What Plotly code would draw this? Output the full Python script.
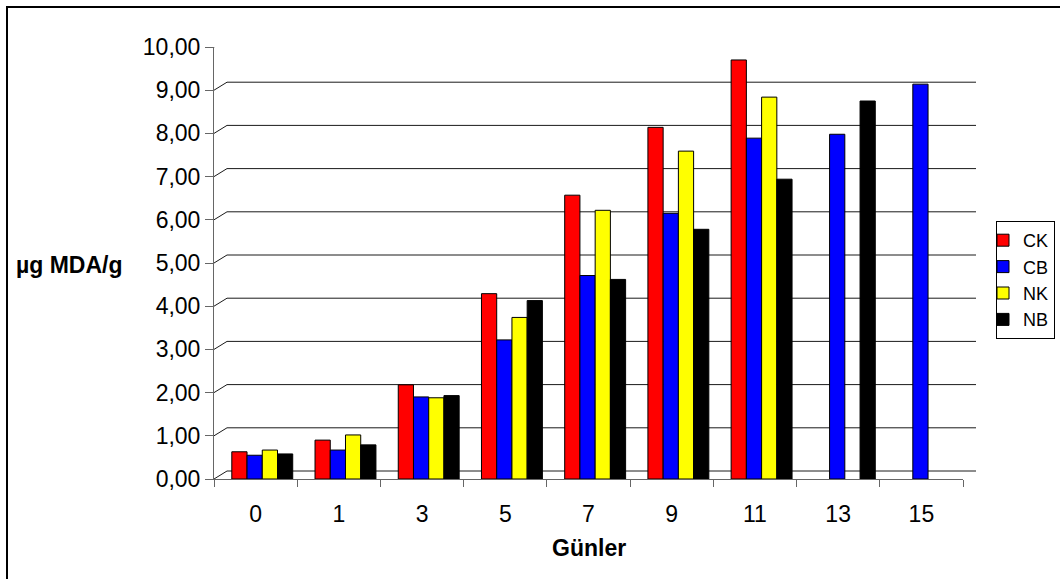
import plotly.graph_objects as go

# Storage days and MDA content (µg MDA/g) per sample group
days = ["0", "1", "3", "5", "7", "9", "11", "13", "15"]
ck = [0.63, 0.90, 2.18, 4.29, 6.57, 8.14, 9.70, None, None]
cb = [0.55, 0.67, 1.90, 3.22, 4.71, 6.15, 7.89, 7.98, 9.14]
nk = [0.67, 1.02, 1.88, 3.74, 6.22, 7.59, 8.84, None, None]
nb = [0.58, 0.79, 1.93, 4.13, 4.62, 5.78, 6.94, 8.75, None]

series = [("CK", ck, "#FF0000"), ("CB", cb, "#0000FF"),
          ("NK", nk, "#FFFF00"), ("NB", nb, "#000000")]
y_ticks = [0, 1, 2, 3, 4, 5, 6, 7, 8, 9, 10]
y_tick_text = [f"{v:.2f}".replace(".", ",") for v in y_ticks]

W, H = 1060, 579
L, R, T, B = 214, 97, 47, 100
PW, PH = W - L - R, H - T - B


def px_x(p):
    return (p - L) / PW


def px_y(p):
    return (H - B - p) / PH


FONT = "Liberation Sans, Arial, sans-serif"
bar_w = 0.183
depth_shift = 0.08

fig = go.Figure()
for i, (name, vals, color) in enumerate(series):
    fig.add_trace(go.Bar(
        x=days, y=vals, name=name,
        marker=dict(color=color, line=dict(color="#000000", width=1)),
        width=bar_w,
        offset=-2 * bar_w + i * bar_w + depth_shift,
    ))

shapes = []
dx = px_x(L + 13)
x_end = px_x(976)
for v in y_ticks:
    # back-wall gridline, raised by the wall depth
    shapes.append(dict(type="line", xref="paper", yref="y",
                       ysizemode="pixel", yanchor=v,
                       x0=dx, x1=x_end, y0=8, y1=8,
                       line=dict(color="#1a1a1a", width=1), layer="below"))
    # side-wall connector from the axis tick to the back wall
    shapes.append(dict(type="line", xref="paper", yref="y",
                       ysizemode="pixel", yanchor=v,
                       x0=0, x1=dx, y0=0, y1=8,
                       line=dict(color="#1a1a1a", width=1), layer="below"))

# chart frame
shapes.append(dict(type="rect", xref="paper", yref="paper",
                   x0=px_x(7), x1=px_x(1075), y0=px_y(595), y1=px_y(7),
                   line=dict(color="#000000", width=2)))

fig.update_layout(
    width=W, height=H,
    margin=dict(l=L, r=R, t=T, b=B, autoexpand=False),
    paper_bgcolor="white", plot_bgcolor="white",
    barmode="overlay",
    font=dict(family=FONT, color="#000000", size=23),
    shapes=shapes,
    xaxis=dict(type="category", tickson="boundaries", ticks="outside",
               ticklen=7, tickcolor="#666666", showline=True,
               linecolor="#666666", linewidth=1, showgrid=False,
               tickfont=dict(size=23), ticklabelstandoff=14,
               range=[-0.5, 8.5]),
    yaxis=dict(range=[0, 10], tickvals=y_ticks, ticktext=y_tick_text,
               ticks="outside", ticklen=8, tickcolor="#666666",
               showline=True, linecolor="#666666", linewidth=1,
               showgrid=False, zeroline=False, tickfont=dict(size=23)),
    legend=dict(x=px_x(996), y=px_y(221), xanchor="left", yanchor="top",
                bordercolor="#000000", borderwidth=1, bgcolor="white",
                font=dict(size=18), tracegroupgap=0, itemwidth=30,
                indentation=-14),
    annotations=[
        dict(text="<b>Günler</b>", xref="paper", yref="paper",
             x=0.5, y=px_y(548), xanchor="center", yanchor="middle",
             showarrow=False, font=dict(size=23)),
        dict(text="<b>µg MDA/g</b>", xref="paper", yref="paper",
             x=px_x(14), y=px_y(265), xanchor="left", yanchor="middle",
             showarrow=False, font=dict(size=23)),
    ],
)

fig.write_html("out.html")
